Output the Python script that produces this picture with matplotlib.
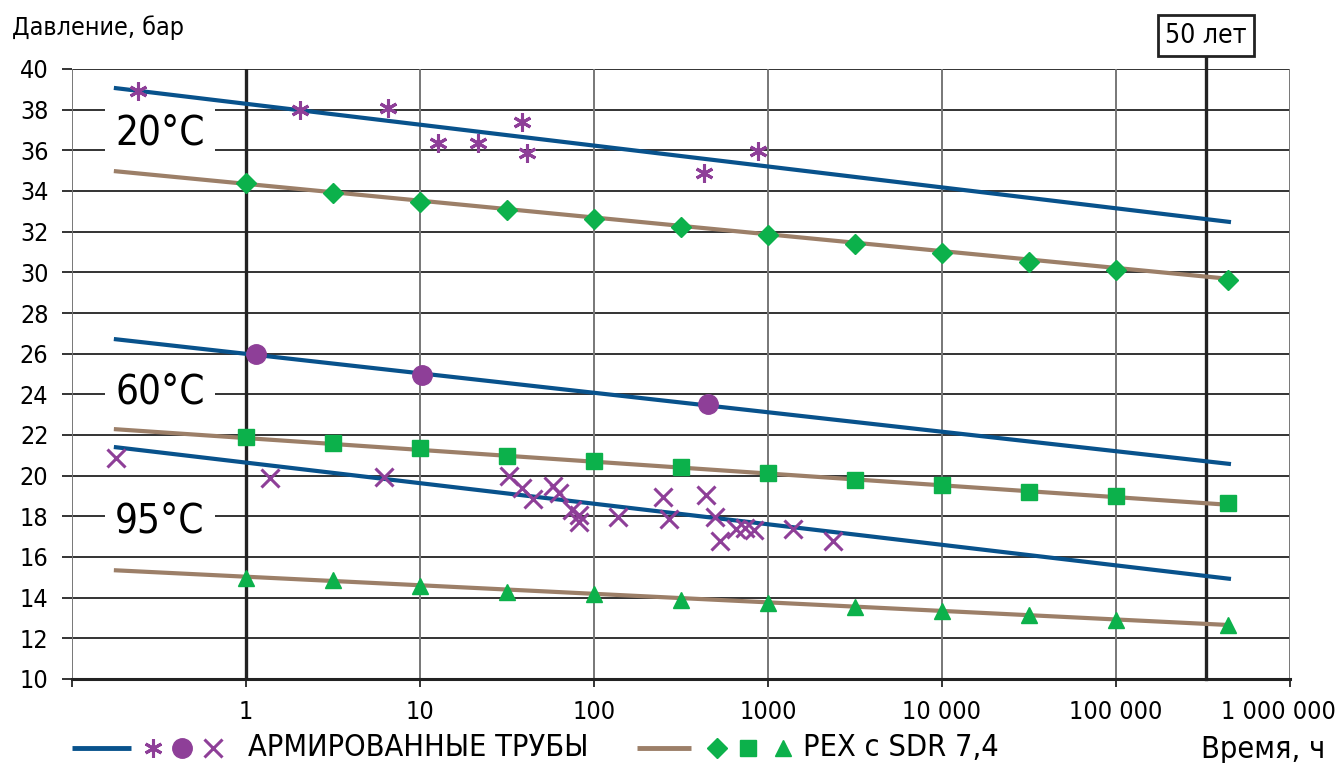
import matplotlib
matplotlib.use('Agg')
import matplotlib.pyplot as plt
import matplotlib.transforms as mtransforms
import numpy as np

plt.rcParams['font.family'] = ['DejaVu Sans']
plt.rcParams['font.stretch'] = 'condensed'
plt.rcParams['font.size'] = 17

# --- data -------------------------------------------------------------
# regression lines: start/end time (h) and pressure (bar)
line_t = [0.174, 4.58e5]
arm_20 = [39.07, 32.47]
arm_60 = [26.72, 20.57]
arm_95 = [21.41, 14.92]
pex_20 = [34.98, 29.67]
pex_60 = [22.29, 18.56]
pex_95 = [15.35, 12.65]

# PEX test points (green)
pex_t = [1, 3.16, 10, 31.6, 100, 316, 1000, 3162, 10000, 31623, 100000, 4.4e5]
pex_20_p = [34.39, 33.90, 33.46, 33.06, 32.62, 32.23, 31.83, 31.39, 30.95, 30.51, 30.11, 29.62]
pex_60_p = [21.90, 21.60, 21.36, 20.97, 20.72, 20.42, 20.13, 19.78, 19.54, 19.19, 18.99, 18.65]
pex_95_p = [14.96, 14.87, 14.57, 14.28, 14.18, 13.88, 13.73, 13.54, 13.34, 13.14, 12.90, 12.65]

# armored pipe test points (purple)
arm_20_t = [0.239, 2.05, 6.56, 12.7, 21.6, 38.7, 41.4, 431, 881]
arm_20_p = [38.92, 37.98, 38.08, 36.36, 36.36, 37.39, 35.87, 34.88, 35.97]
arm_60_t = [1.14, 10.3, 455]
arm_60_p = [25.98, 24.95, 23.52]
arm_95_t = [0.179, 1.37, 6.22, 32.3, 38.4, 44.4, 58.4, 62.6, 74.8, 81.7, 82.4,
            136.8, 250.6, 268.8, 441, 499, 533, 656, 742, 836, 1389, 2360]
arm_95_p = [20.85, 19.90, 19.95, 20.00, 19.38, 18.84, 19.49, 19.13, 18.31, 18.07, 17.74,
            17.95, 18.97, 17.85, 19.05, 17.95, 16.80, 17.36, 17.41, 17.33, 17.38, 16.80]

temps = ['20°C', '60°C', '95°C']
temp_y = [36.85, 24.1, 17.75]
t_50years = 3.3e5

x_ticks = [0.1, 1, 10, 100, 1000, 10000, 100000, 1000000]
x_labels = ['', '1', '10', '100', '1000', '10 000', '100 000', '1 000 000']
y_ticks = list(range(10, 41, 2))

BLUE = '#08528c'
BROWN = '#9c7f68'
PURPLE = '#8e3f98'
GREEN = '#0cb14b'

fig = plt.figure(figsize=(13.39, 7.63), dpi=100)
ax = fig.add_axes([72/1339, 1-679/763, (1290-72)/1339, (679-69)/763])
ax.set_xscale('log')
ax.set_xlim(0.1, 1e6)
ax.set_ylim(10, 40)

# grid
for y in y_ticks[1:]:
    ax.axhline(y, color='#333333', lw=1.4, zorder=1)
for x in x_ticks:
    ax.axvline(x, color='#777777', lw=1.4, zorder=1)
ax.axvline(1, color='#222222', lw=2.4, zorder=1)

for s in ['top', 'right', 'left']:
    ax.spines[s].set_visible(False)
ax.spines['bottom'].set_linewidth(2.2)
ax.spines['bottom'].set_color('#222222')

ax.set_xticks(x_ticks)
ax.set_xticklabels(x_labels)
ax.minorticks_off()
ax.set_yticks(y_ticks)
ax.tick_params(axis='y', length=7, width=1.4, color='#333333', pad=10, labelsize=18)
ax.tick_params(axis='x', length=6, width=1.4, color='#333333', pad=9, labelsize=18)
last = ax.get_xticklabels()[-1]
last.set_transform(last.get_transform() +
                   mtransforms.ScaledTranslation(-0.12, 0, fig.dpi_scale_trans))

# 50 years line
ax.plot([t_50years, t_50years], [10, 40.55], color='#222222', lw=2.4, clip_on=False, zorder=2)
ax.text(t_50years, 41.63, '50 лет', ha='center', va='center', fontsize=19,
        bbox=dict(boxstyle='square,pad=0.28', fc='white', ec='#222222', lw=2))

# temperature labels
for lbl, yy in zip(temps, temp_y):
    ax.text(0.32, yy, lbl, ha='center', va='center', fontsize=29, zorder=3,
            bbox=dict(boxstyle='square,pad=0.25', fc='white', ec='none'))

# regression lines
for yy in [arm_20, arm_60, arm_95]:
    ax.plot(line_t, yy, color=BLUE, lw=3, zorder=4, solid_capstyle='butt')
for yy in [pex_20, pex_60, pex_95]:
    ax.plot(line_t, yy, color=BROWN, lw=3, zorder=4, solid_capstyle='butt')

# points
ast = (6, 2, 0)
ax.plot(arm_20_t, arm_20_p, ls='none', marker=ast, ms=13, mew=2.2, mec=PURPLE, zorder=5)
ax.plot(arm_60_t, arm_60_p, ls='none', marker='o', ms=14, color=PURPLE, zorder=5)
ax.plot(arm_95_t, arm_95_p, ls='none', marker='x', ms=13, mew=2.2, color=PURPLE, zorder=5)
ax.plot(pex_t, pex_20_p, ls='none', marker='D', ms=10, color=GREEN, zorder=5)
ax.plot(pex_t, pex_60_p, ls='none', marker='s', ms=12, color=GREEN, zorder=5)
ax.plot(pex_t, pex_95_p, ls='none', marker='^', ms=12, color=GREEN, zorder=5)

# axis titles
fig.text(12/1339, 1-28/763, 'Давление, бар', ha='left', va='center', fontsize=18)
fig.text(1325/1339, 1-750/763, 'Время, ч', ha='right', va='center', fontsize=22)

# legend (drawn in pixel space)
lg = fig.add_axes([0, 0, 1, 1], zorder=-1)
lg.set_xlim(0, 1339)
lg.set_ylim(763, 0)
lg.axis('off')
ly = 748
lg.plot([72, 131], [ly, ly], color=BLUE, lw=3.5, solid_capstyle='butt')
lg.plot([153], [ly], marker=ast, ms=13, mew=2.2, mec=PURPLE, ls='none')
lg.plot([182], [ly], marker='o', ms=14, color=PURPLE, ls='none')
lg.plot([213], [ly], marker='x', ms=13, mew=2.2, color=PURPLE, ls='none')
lg.text(248, ly, 'АРМИРОВАННЫЕ ТРУБЫ', ha='left', va='center', fontsize=22)
lg.plot([637, 691], [ly, ly], color=BROWN, lw=3.5, solid_capstyle='butt')
lg.plot([717], [ly], marker='D', ms=10, color=GREEN, ls='none')
lg.plot([748], [ly], marker='s', ms=12, color=GREEN, ls='none')
lg.plot([783], [ly], marker='^', ms=12, color=GREEN, ls='none')
lg.text(803, ly, 'PEX с SDR 7,4', ha='left', va='center', fontsize=22)

fig.savefig('out.png', dpi=100)
